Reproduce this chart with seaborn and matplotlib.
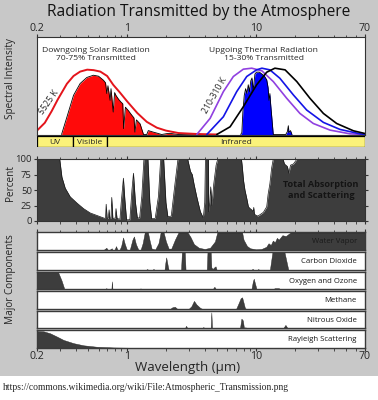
import numpy as np
import matplotlib
matplotlib.use('Agg')
import matplotlib.pyplot as plt
from matplotlib.patches import Rectangle
from matplotlib.ticker import FixedLocator, LogLocator, NullFormatter
import seaborn as sns

# ---------------- data ----------------
# solar 5525 K envelope (wavelength um, relative intensity)
solar_wl = [0.2, 0.23, 0.26, 0.29, 0.321, 0.341, 0.384, 0.432, 0.49, 0.55, 0.62, 0.70,
            0.78, 0.88, 1.0, 1.2, 1.42, 1.7, 2.0, 2.5, 3.5, 5.0]
solar_env = [0.04, 0.12, 0.24, 0.36, 0.46, 0.52, 0.60, 0.645, 0.665, 0.66, 0.645, 0.60,
             0.51, 0.43, 0.34, 0.22, 0.13, 0.07, 0.04, 0.015, 0.005, 0.0]
# transmitted solar radiation (red fill)
solar_tr_wl = [0.31, 0.341, 0.384, 0.432, 0.487, 0.548, 0.60, 0.655, 0.68, 0.696, 0.71, 0.738,
               0.75, 0.78, 0.80, 0.82, 0.86, 0.90, 0.925, 0.94, 0.97, 1.02, 1.09, 1.13, 1.15,
               1.18, 1.26, 1.34, 1.42, 1.46, 1.6, 1.75, 1.85, 2.05, 2.2, 2.5, 3.5, 4.0]
solar_tr = [0.0, 0.178, 0.402, 0.523, 0.585, 0.608, 0.598, 0.557, 0.53, 0.42, 0.50, 0.35,
            0.47, 0.23, 0.43, 0.40, 0.36, 0.33, 0.316, 0.06, 0.28, 0.247, 0.196, 0.17, 0.024,
            0.15, 0.11, 0.0, 0.0, 0.04, 0.024, 0.01, 0.0, 0.01, 0.01, 0.0, 0.005, 0.0]
# thermal envelopes 210-310 K
purple_wl = [3.47, 4.40, 5.58, 6.67, 7.97, 9.26, 11.1, 13.6, 17.3, 21.9, 27.8, 37.5, 53.5, 70]
purple_i = [0.0, 0.165, 0.44, 0.595, 0.67, 0.68, 0.653, 0.543, 0.371, 0.216, 0.113, 0.045, 0.007, 0.0]
blue_wl = [4.15, 5.58, 7.08, 8.47, 10.1, 11.1, 12.8, 15.3, 19.5, 24.7, 33.3, 44.8, 64, 70]
blue_i = [0.0, 0.182, 0.44, 0.595, 0.663, 0.68, 0.663, 0.577, 0.405, 0.251, 0.124, 0.052, 0.007, 0.0]
black_wl = [4.96, 6.29, 7.97, 10.1, 12.1, 14.0, 16.8, 20.7, 26.2, 33.3, 42.2, 56.9, 70]
black_i = [0.0, 0.079, 0.285, 0.509, 0.639, 0.68, 0.663, 0.543, 0.371, 0.216, 0.113, 0.038, 0.01]
# transmitted thermal radiation (blue fill)
thermal_tr_wl = [7.6, 7.76, 7.9, 8.1, 8.3, 8.5, 8.7, 8.9, 9.1, 9.3, 9.5, 9.8, 10.1, 10.6, 11.1,
                 11.6, 12.1, 12.4, 12.6, 12.8, 13.0, 13.3, 13.6, 17.0, 17.5, 17.8, 18.0, 18.5, 19.0]
thermal_tr = [0.0, 0.02, 0.23, 0.40, 0.47, 0.42, 0.51, 0.44, 0.55, 0.58, 0.45, 0.62, 0.64, 0.64,
              0.62, 0.60, 0.56, 0.48, 0.35, 0.42, 0.30, 0.15, 0.0, 0.0, 0.03, 0.09, 0.02, 0.04, 0.0]

# spectral bands
band_names = ['UV', 'Visible', 'Infrared']
band_edges = [0.2, 0.38, 0.7, 70]

# total absorption and scattering (percent)
abs_wl = [0.2, 0.30, 0.312, 0.331, 0.362, 0.408, 0.459, 0.517, 0.582, 0.655, 0.68, 0.688, 0.70,
          0.715, 0.725, 0.735, 0.75, 0.76, 0.775, 0.81, 0.82, 0.835, 0.88, 0.90, 0.936, 0.96,
          0.99, 1.05, 1.09, 1.12, 1.16, 1.2, 1.25, 1.3, 1.35, 1.45, 1.5, 1.55, 1.65, 1.75, 1.82,
          1.92, 2.0, 2.07, 2.2, 2.35, 2.48, 2.95, 3.0, 3.1, 3.2, 3.3, 3.46, 3.6, 3.7, 3.9, 4.0,
          4.05, 4.27, 4.3, 4.38, 4.45, 4.55, 4.7, 4.9, 5.05, 7.7, 7.8, 8.0, 8.2, 8.5, 8.72, 9.0,
          9.27, 9.5, 9.6, 9.7, 9.83, 10.3, 10.7, 11.4, 12.1, 12.4, 12.8, 13.2, 13.6, 16.2, 16.6,
          17.5, 18.0, 18.5, 19.5, 20.8, 70]
abs_pct = [100, 100, 71, 53, 39, 29, 20, 13, 9, 5, 4, 27, 4,
           5, 18, 4, 5, 38, 4, 5, 20, 4, 3, 30, 69, 35,
           2, 2, 50, 77, 30, 5, 5, 40, 100, 100, 30, 4, 4, 40, 100,
           100, 30, 7, 8, 60, 100, 100, 93, 80, 75, 60, 40, 25, 15, 5, 30,
           100, 100, 15, 30, 55, 25, 60, 90, 100, 100, 90, 65, 50, 35, 23, 20,
           18, 15, 22, 12, 10, 8, 10, 14, 23, 43, 60, 85, 100, 100, 92,
           88, 77, 90, 92, 100, 100]

# major components (fraction of row height)
comp_names = ['Water Vapor', 'Carbon Dioxide', 'Oxygen and Ozone', 'Methane',
              'Nitrous Oxide', 'Rayleigh Scattering']
h2o_wl = [0.2, 0.55, 0.58, 0.6, 0.65, 0.69, 0.71, 0.72, 0.76, 0.77, 0.80, 0.82, 0.84, 0.87,
          0.90, 0.93, 0.96, 1.0, 1.05, 1.1, 1.13, 1.17, 1.22, 1.27, 1.32, 1.37, 1.45, 1.5, 1.55,
          1.65, 1.75, 1.82, 1.92, 2.0, 2.1, 2.2, 2.35, 2.5, 2.95, 3.1, 3.3, 3.6, 4.0, 4.4, 4.8,
          5.0, 7.8, 8.0, 8.5, 9.0, 10.0, 11.0, 12.0, 12.5, 13.0, 13.5, 14.0, 14.5, 15.0, 16.0,
          17.0, 18.5, 70]
h2o = [0, 0, 0.04, 0, 0, 0.15, 0.02, 0, 0.12, 0, 0.05, 0.24, 0.05, 0,
       0.25, 0.72, 0.35, 0, 0.05, 0.6, 0.78, 0.35, 0.05, 0.02, 0.4, 1.0, 1.0, 0.5, 0.1,
       0.05, 0.4, 1.0, 1.0, 0.5, 0.1, 0.1, 0.6, 1.0, 1.0, 0.75, 0.35, 0.15, 0.08, 0.15, 0.5,
       1.0, 1.0, 0.6, 0.25, 0.12, 0.06, 0.08, 0.2, 0.4, 0.3, 0.55, 0.45, 0.7, 0.6, 0.85,
       0.8, 1.0, 1.0]
co2_wl = [0.2, 1.40, 1.43, 1.46, 1.58, 1.6, 1.63, 1.95, 1.98, 2.01, 2.04, 2.07, 2.1, 2.62,
          2.66, 2.80, 2.84, 4.15, 4.2, 4.45, 4.5, 4.6, 4.75, 4.85, 4.95, 9.2, 9.4, 9.6, 10.2,
          10.4, 10.6, 12.8, 13.4, 16.6, 17.8, 70]
co2 = [0, 0, 0.05, 0, 0, 0.06, 0, 0, 0.4, 0.7, 0.45, 0.2, 0, 0,
       1.0, 1.0, 0, 0, 1.0, 1.0, 0.15, 0.05, 0.15, 0.2, 0, 0, 0.06, 0, 0,
       0.05, 0, 0, 1.0, 1.0, 0, 0]
o3_wl = [0.2, 0.29, 0.31, 0.325, 0.34, 0.68, 0.69, 0.70, 0.755, 0.762, 0.77, 1.24, 1.27,
         1.30, 4.6, 4.75, 4.9, 9.2, 9.45, 9.6, 9.8, 10.1, 13.3, 14.0, 15.0, 15.5, 70]
o3 = [1.0, 1.0, 0.5, 0.05, 0, 0, 0.08, 0, 0, 0.45, 0, 0, 0.06,
      0, 0, 0.15, 0, 0, 0.45, 0.6, 0.35, 0, 0, 0.07, 0.07, 0, 0]
ch4_wl = [0.2, 2.15, 2.25, 2.35, 2.45, 3.0, 3.15, 3.3, 3.45, 3.7, 3.85, 7.0, 7.3, 7.6, 7.8,
          8.0, 8.2, 8.4, 70]
ch4 = [0, 0, 0.1, 0.12, 0, 0, 0.15, 0.45, 0.25, 0.05, 0, 0, 0.3, 0.6, 0.65,
       0.35, 0.05, 0, 0]
n2o_wl = [0.2, 2.8, 2.87, 2.93, 3.8, 3.9, 4.0, 4.45, 4.5, 4.56, 7.5, 7.7, 7.9, 8.05, 8.3,
          8.5, 16.2, 16.9, 17.6, 70]
n2o = [0, 0, 0.15, 0, 0, 0.08, 0, 0, 0.9, 0, 0, 0.55, 0.45, 0.05, 0.06,
       0, 0, 0.2, 0, 0]
ray_wl = [0.2, 0.225, 0.253, 0.285, 0.321, 0.384, 0.459, 0.582, 0.783, 1.05, 2.0, 70]
ray = [0.95, 0.93, 0.82, 0.64, 0.45, 0.27, 0.15, 0.07, 0.03, 0.015, 0.0, 0.0]
comp_wl = [h2o_wl, co2_wl, o3_wl, ch4_wl, n2o_wl, ray_wl]
comp_val = [h2o, co2, o3, ch4, n2o, ray]

# ---------------- styling ----------------
sns.set_theme(style='white')
plt.rcParams['font.family'] = ['Open Sans', 'DejaVu Sans']
plt.rcParams['axes.linewidth'] = 0.8
plt.rcParams['axes.edgecolor'] = '#333333'

BG = '#c8c8c8'
DARK = '#3d3d3d'
W, H = 378, 400


def box(left, top, right, bottom):
    return [left / W, 1 - bottom / H, (right - left) / W, (bottom - top) / H]


def log_axis(ax):
    ax.set_xscale('log')
    ax.set_xlim(0.2, 70)
    ax.xaxis.set_major_locator(FixedLocator([0.2, 1, 10, 70]))
    ax.xaxis.set_minor_locator(LogLocator(base=10, subs=np.arange(2, 10)))
    ax.xaxis.set_minor_formatter(NullFormatter())
    ax.set_xticklabels(['0.2', '1', '10', '70'])
    ax.tick_params(axis='x', which='major', length=2.2, width=0.8, color='#333333',
                   labelsize=7.6, pad=0.3, direction='out')
    ax.tick_params(axis='x', which='minor', length=1.8, width=0.6, color='#333333',
                   direction='out')
    ax.set_xlabel('')
    ax.set_ylabel('')


fig = plt.figure(figsize=(3.78, 4.0), dpi=100, facecolor=BG)
fig.patches.append(Rectangle((0, 0), 1, 24 / H, transform=fig.transFigure,
                             facecolor='white', edgecolor='none'))

# ---- spectral intensity panel ----
ax1 = fig.add_axes(box(37, 37, 365, 134.5))
ax1.set_facecolor('white')
log_axis(ax1)
ax1.set_ylim(0, 1)
ax1.fill_between(solar_tr_wl, solar_tr, color='#ff0a0a', lw=0)
sns.lineplot(x=solar_tr_wl, y=solar_tr, ax=ax1, color='black', lw=0.6)
sns.lineplot(x=solar_wl, y=solar_env, ax=ax1, color='#e4141b', lw=1.4)
ax1.fill_between(thermal_tr_wl, thermal_tr, color='#0000ff', lw=0)
sns.lineplot(x=thermal_tr_wl, y=thermal_tr, ax=ax1, color='black', lw=0.6)
sns.lineplot(x=purple_wl, y=purple_i, ax=ax1, color='#9040e0', lw=1.2)
sns.lineplot(x=blue_wl, y=blue_i, ax=ax1, color='#1414e6', lw=1.2)
sns.lineplot(x=black_wl, y=black_i, ax=ax1, color='black', lw=1.2)
log_axis(ax1)
ax1.set_ylim(0, 1)
ax1.set_yticks([])
ax1.tick_params(axis='x', which='both', top=True, bottom=False,
                labeltop=True, labelbottom=False)
ax1.text(0.575, 0.82, 'Downgoing Solar Radiation\n70-75% Transmitted', ha='center',
         va='center', fontsize=6.1, linespacing=1.3)
ax1.text(11.5, 0.82, 'Upgoing Thermal Radiation\n15-30% Transmitted', ha='center',
         va='center', fontsize=6.1, linespacing=1.3)
ax1.text(0.248, 0.33, '5525 K', rotation=55, ha='center', va='center', fontsize=6.2)
ax1.text(4.75, 0.40, '210-310 K', rotation=60, ha='center', va='center', fontsize=6.2)

# ---- band strip ----
axb = fig.add_axes(box(37, 136, 365, 147))
axb.set_xscale('log')
axb.set_xlim(0.2, 70)
axb.set_ylim(0, 1)
for name, lo, hi in zip(band_names, band_edges[:-1], band_edges[1:]):
    axb.axvspan(lo, hi, facecolor='#fbf27a', edgecolor='black', lw=0.9)
    axb.text(np.sqrt(lo * hi), 0.45, name, ha='center', va='center', fontsize=6.0)
axb.axis('off')

# ---- total absorption panel ----
ax2 = fig.add_axes(box(37, 159, 365, 221))
ax2.set_facecolor('white')
ax2.fill_between(abs_wl, abs_pct, color=DARK, lw=0)
sns.lineplot(x=abs_wl, y=abs_pct, ax=ax2, color='#151515', lw=0.5)
log_axis(ax2)
ax2.set_ylim(0, 100)
ax2.set_yticks([0, 25, 50, 75, 100])
ax2.tick_params(axis='y', length=2.5, width=0.8, color='#333333', labelsize=6.8, pad=1.2,
                direction='out', right=True, left=True)
ax2.tick_params(axis='x', which='both', top=True, bottom=True, labelbottom=False)
ax2.text(31.9, 50, 'Total Absorption\nand Scattering', ha='center', va='center',
         fontsize=6.6, fontweight='bold', color='#141414', linespacing=1.2)

# ---- major components ----
top, bottom, gap = 232.5, 348, 1.6
row_h = (bottom - top - gap * (len(comp_names) - 1)) / len(comp_names)
for i, (name, wl, val) in enumerate(zip(comp_names, comp_wl, comp_val)):
    y0 = top + i * (row_h + gap)
    ax = fig.add_axes(box(37, y0, 365, y0 + row_h))
    ax.set_facecolor('white')
    ax.fill_between(wl, val, color=DARK, lw=0.3, edgecolor='#222222')
    log_axis(ax)
    ax.set_ylim(0, 1.0)
    ax.set_yticks([])
    for sp in ax.spines.values():
        sp.set_color('#3a3a3a')
        sp.set_linewidth(1.0)
    ax.text(0.975, 0.47, name, transform=ax.transAxes, ha='right', va='center',
            fontsize=5.6, color='#1a1a1a')
    first, last = i == 0, i == len(comp_names) - 1
    ax.tick_params(axis='x', which='both', top=first, bottom=last,
                   labeltop=False, labelbottom=last)

# ---- labels ----
fig.text(199 / W, 1 - 12.5 / H, 'Radiation Transmitted by the Atmosphere', ha='center',
         va='center', fontsize=11.2, color='#111111')
fig.text(10.5 / W, 1 - 79 / H, 'Spectral Intensity', rotation=90, ha='center', va='center',
         fontsize=7.2)
fig.text(10.5 / W, 1 - 183 / H, 'Percent', rotation=90, ha='center', va='center', fontsize=7.2)
fig.text(10.5 / W, 1 - 279 / H, 'Major Components', rotation=90, ha='center', va='center',
         fontsize=7.2)
fig.text(188 / W, 1 - 368 / H, 'Wavelength (µm)', ha='center', va='center', fontsize=9.5)
fig.text(3 / W, 1 - 388 / H, 'https://commons.wikimedia.org/wiki/File:Atmospheric_Transmission.png',
         ha='left', va='center', fontsize=6.9, family=['Liberation Serif', 'DejaVu Serif'])

fig.savefig('out.png', dpi=100, facecolor=BG)
